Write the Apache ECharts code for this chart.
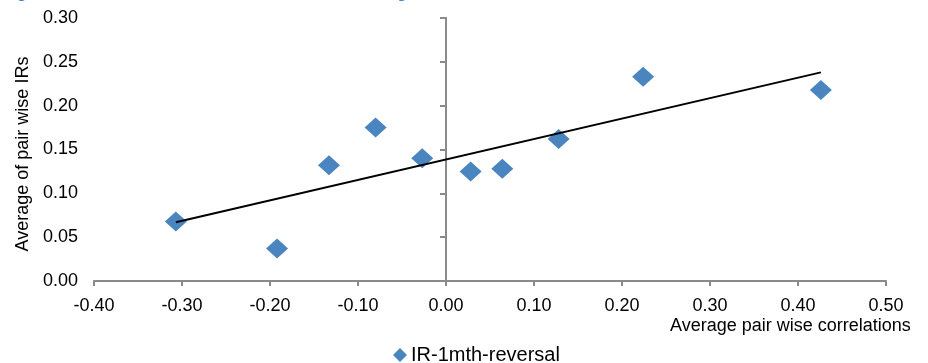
<!DOCTYPE html>
<html>
<head>
<meta charset="utf-8">
<script src="https://cdn.jsdelivr.net/npm/echarts@6/dist/echarts.min.js"></script>
<style>
html,body{margin:0;padding:0;background:#fff;}
#c{width:928px;height:363px;}
</style>
</head>
<body>
<div id="c"></div>
<script>
// Data
var corrX = [-0.307, -0.192, -0.133, -0.080, -0.027, 0.028, 0.064, 0.128, 0.224, 0.426];
var irY   = [0.068, 0.037, 0.132, 0.175, 0.140, 0.125, 0.128, 0.162, 0.233, 0.218];
var trendX = [-0.307, 0.426];
var trendY = [0.067, 0.238];
var seriesName = 'IR-1mth-reversal';
var xTitle = 'Average pair wise correlations';
var yTitle = 'Average of pair wise IRs';

var scatterData = corrX.map(function (x, i) { return [x, irY[i]]; });
var trendData = trendX.map(function (x, i) { return [x, trendY[i]]; });

var font = 'Liberation Sans, Arial, sans-serif';
var axisGray = '#8a8a8a';
var blue = '#4a85bf';

var chart = echarts.init(document.getElementById('c'), null, {renderer: 'canvas'});
chart.setOption({
  animation: false,
  backgroundColor: '#fff',
  textStyle: {fontFamily: font},
  grid: {left: 94, right: 42, top: 18, bottom: 82, containLabel: false},
  legend: {
    data: [{name: seriesName, icon: 'diamond'}],
    left: 393, top: 345, padding: 0,
    itemWidth: 14, itemHeight: 14, itemGap: 4,
    textStyle: {fontSize: 20, color: '#000', fontFamily: font, padding: [0, 0, 0, -1]}
  },
  xAxis: {
    type: 'value', min: -0.4, max: 0.5, interval: 0.1,
    axisLine: {show: true, onZero: false, lineStyle: {color: axisGray, width: 2}},
    axisTick: {show: true, length: 5, lineStyle: {color: axisGray, width: 2}},
    axisLabel: {fontSize: 18, color: '#000', margin: 16, fontFamily: font,
      formatter: function (v) { return v.toFixed(2); }},
    splitLine: {show: false}
  },
  yAxis: [{
    type: 'value', min: 0, max: 0.3, interval: 0.05, position: 'left',
    axisLine: {show: false}, axisTick: {show: false},
    axisLabel: {fontSize: 18, color: '#000', margin: 16, fontFamily: font,
      formatter: function (v) { return v.toFixed(2); }},
    splitLine: {show: false}
  }, {
    type: 'value', min: 0, max: 0.3, interval: 0.05, position: 'left',
    axisLine: {show: true, onZero: true, onZeroAxisIndex: 0, lineStyle: {color: axisGray, width: 2}},
    axisTick: {show: true, length: 6, lineStyle: {color: axisGray, width: 2}},
    axisLabel: {show: false},
    splitLine: {show: false}
  }],
  graphic: [
    {type: 'text', left: 670, top: 317, style: {text: xTitle, font: '18px ' + font, fill: '#000'}},
    {type: 'text', x: 23, y: 154, rotation: Math.PI / 2,
      style: {text: yTitle, font: '18px ' + font, fill: '#000', align: 'center', verticalAlign: 'middle'}},
    {type: 'text', left: 17, top: -14, style: {text: 'g', font: 'bold 16px ' + font, fill: '#4a85bf'}},
    {type: 'text', left: 397, top: -14, style: {text: 'g', font: 'bold 16px ' + font, fill: '#4a85bf'}}
  ],
  series: [{
    name: seriesName, type: 'scatter', data: scatterData,
    symbol: 'diamond', symbolSize: [22, 20],
    itemStyle: {color: blue, opacity: 1}, z: 3
  }, {
    name: 'trend', type: 'line', data: trendData, showSymbol: false, symbol: 'none',
    lineStyle: {color: '#000', width: 2}, z: 4, silent: true
  }]
});
</script>
</body>
</html>
